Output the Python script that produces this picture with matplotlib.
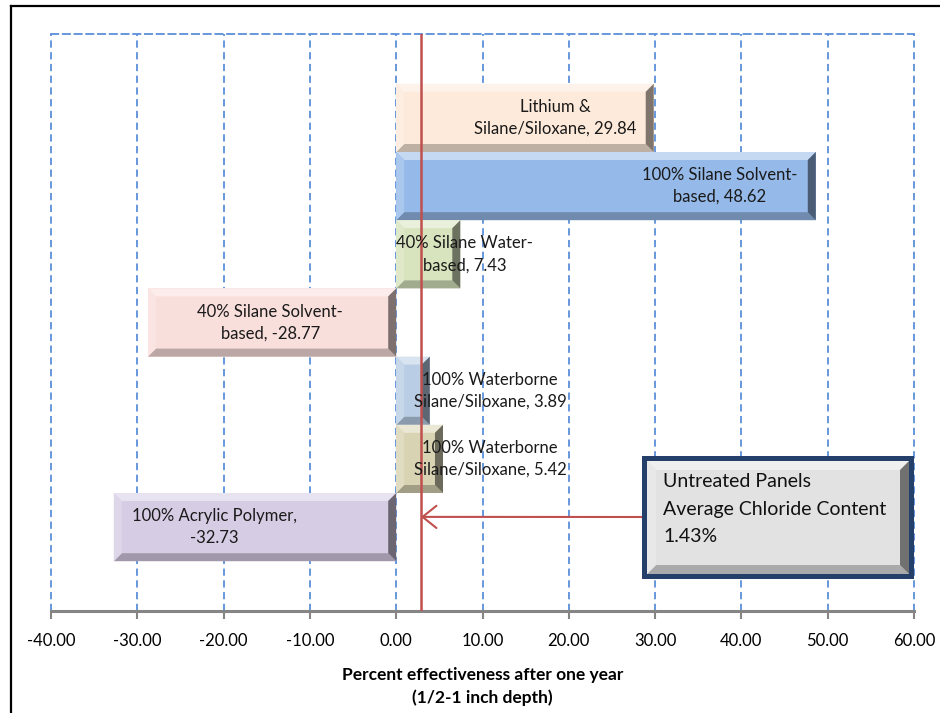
import matplotlib
matplotlib.use("Agg")
import matplotlib.pyplot as plt
import numpy as np
from matplotlib.patches import Polygon, Rectangle
from matplotlib.lines import Line2D
from matplotlib.colors import to_rgb
from matplotlib.transforms import IdentityTransform

# ---- data -------------------------------------------------------------
categories = ["Lithium &\nSilane/Siloxane", "100% Silane Solvent-\nbased",
              "40% Silane Water-\nbased", "40% Silane Solvent-\nbased",
              "100% Waterborne\nSilane/Siloxane", "100% Waterborne\nSilane/Siloxane",
              "100% Acrylic Polymer"]
values = [29.84, 48.62, 7.43, -28.77, 3.89, 5.42, -32.73]
label_sep = [", ", ", ", ", ", ", ", ", ", ", ", ",\n"]
label_x = [18.4, 37.5, 7.9, -14.6, 10.9, 10.9, -21.1]
bar_colors = ["#fdeada", "#95b9e8", "#d7e4bd", "#f9dfdc", "#b9cde5", "#d8d3b3", "#d6cce4"]
tick_values = [-40, -30, -20, -10, 0, 10, 20, 30, 40, 50, 60]
untreated_ref = 2.86
box_text = "Untreated Panels\nAverage Chloride Content\n1.43%"
xlabel = "Percent effectiveness after one year\n(1/2-1 inch depth)"

W, H = 940, 713
FONT = ["Lato", "DejaVu Sans"]
plt.rcParams["font.family"] = FONT

fig = plt.figure(figsize=(W / 100, H / 100), dpi=100)
fig.patch.set_facecolor("white")


def fx(px):
    return px / W


def fy(py):
    return 1 - py / H


ax = fig.add_axes([fx(51), fy(611), fx(914) - fx(51), fy(34) - fy(611)])
ax.set_xlim(-40, 60)
ax.set_ylim(7.23, -1.23)

# grid and axes styling
grid_blue = "#5b8fd9"
for t in tick_values:
    ax.axvline(t, color=grid_blue, lw=1.3, ls=(0, (4, 2.5)), zorder=0, clip_on=False)
for s in ["left", "right"]:
    ax.spines[s].set_visible(False)
ax.spines["top"].set_color(grid_blue)
ax.spines["top"].set_linestyle((0, (4, 2.5)))
ax.spines["top"].set_linewidth(1.3)
ax.spines["bottom"].set_color("#858585")
ax.spines["bottom"].set_linewidth(2.2)
ax.set_yticks([])
ax.set_xticks(tick_values)
ax.set_xticklabels([f"{t:.2f}" for t in tick_values], fontsize=12)
ax.tick_params(axis="x", direction="out", length=6, width=1.5, color="#858585", pad=10)
ax.set_xlabel(xlabel, fontsize=12.5, fontweight="bold", labelpad=13, linespacing=1.45)

# bars
ypos = np.arange(len(values))
bars = ax.barh(ypos, values, height=1.0, color=bar_colors, zorder=2, edgecolor="none")


def mix(c, target, f):
    c = np.array(to_rgb(c))
    return tuple(c * (1 - f) + np.array(target) * f)


def bevel(x0, y0, x1, y1, color, d, trans, z, parent):
    """Draw bevel bands inside a display-space rectangle (y0 bottom, y1 top)."""
    inv = trans.inverted()
    pts = {
        "top": [(x0, y1), (x1, y1), (x1 - d, y1 - d), (x0 + d, y1 - d)],
        "bottom": [(x0, y0), (x1, y0), (x1 - d, y0 + d), (x0 + d, y0 + d)],
        "left": [(x0, y0), (x0, y1), (x0 + d, y1 - d), (x0 + d, y0 + d)],
        "right": [(x1, y0), (x1, y1), (x1 - d, y1 - d), (x1 - d, y0 + d)],
    }
    shades = {
        "top": mix(color, (1, 1, 1), 0.45),
        "left": mix(color, (1, 1, 1), 0.2),
        "bottom": mix(color, (0, 0, 0), 0.25),
        "right": mix(color, (0, 0, 0), 0.5),
    }
    for key in ["top", "bottom", "left", "right"]:
        poly = Polygon(inv.transform(pts[key]), closed=True, facecolor=shades[key],
                       edgecolor="none", transform=trans, zorder=z)
        if parent is ax:
            ax.add_patch(poly)
        else:
            fig.add_artist(poly)


for bar, c in zip(bars, bar_colors):
    (xa, ya), (xb, yb) = ax.transData.transform(
        [(bar.get_x(), bar.get_y()), (bar.get_x() + bar.get_width(), bar.get_y() + bar.get_height())])
    bevel(min(xa, xb), min(ya, yb), max(xa, xb), max(ya, yb), c, 8, ax.transData, 2.5, ax)

# bar labels
for i, (cat, sep, v, lx) in enumerate(zip(categories, label_sep, values, label_x)):
    ax.text(lx, i, f"{cat}{sep}{v:.2f}", ha="center", va="center", fontsize=12,
            multialignment="center", linespacing=1.45, color="#1a1a1a", zorder=5)

# reference line
ax.axvline(untreated_ref, color="#c0504d", lw=1.8, zorder=4)

# annotation box
bx0, bx1, by0, by1 = 642, 914, 456, 579
border = Rectangle((fx(bx0), fy(by1)), fx(bx1) - fx(bx0), fy(by0) - fy(by1),
                   transform=fig.transFigure, facecolor="#24406a", edgecolor="none", zorder=6)
fig.add_artist(border)
inner_c = "#e2e2e2"
inset = 5
inner = Rectangle((fx(bx0 + inset), fy(by1 - inset)), fx(bx1 - bx0 - 2 * inset),
                  fy(by0 + inset) - fy(by1 - inset),
                  transform=fig.transFigure, facecolor=inner_c, edgecolor="none", zorder=6.1)
fig.add_artist(inner)
bevel(bx0 + inset, H - (by1 - inset), bx1 - inset, H - (by0 + inset), inner_c, 9,
      IdentityTransform(), 6.2, fig)
fig.text(fx(663), fy(509), box_text, ha="left", va="center", fontsize=14,
         linespacing=1.75, color="#111111", zorder=7)

# arrow from box to the reference line
ax.annotate("", xy=(untreated_ref, 5.85), xycoords="data",
            xytext=(fx(bx0), fy(517)), textcoords="figure fraction",
            arrowprops=dict(arrowstyle="->, head_length=0.5, head_width=0.4",
                            color="#c0504d", lw=1.5, mutation_scale=20,
                            shrinkA=0, shrinkB=0), zorder=5)

# outer frame
fig.add_artist(Line2D([fx(11), 1], [fy(6), fy(6)], color="black", lw=1.6, transform=fig.transFigure))
fig.add_artist(Line2D([fx(11), fx(11)], [fy(6), 0], color="black", lw=1.6, transform=fig.transFigure))

fig.savefig("out.png", dpi=100)
